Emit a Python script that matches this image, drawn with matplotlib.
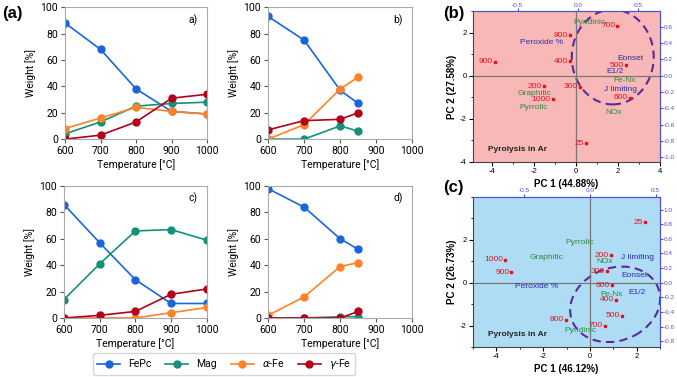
import matplotlib
matplotlib.use("Agg")
import matplotlib.pyplot as plt
from matplotlib.patches import Ellipse
from matplotlib.ticker import MultipleLocator

# ---- data for the weight panels ----
temps_long = [600, 700, 800, 900, 1000]
temps_short = [600, 700, 800, 850]

a_fepc = [88, 68, 38, 21, 19]
a_mag = [4, 13, 25, 27, 28]
a_afe = [8, 16, 24, 21, 19]
a_gfe = [0, 3, 13, 31, 34]

b_fepc = [93, 75, 37, 27]
b_mag = [0, 0, 10, 6]
b_afe = [0, 11, 38, 47]
b_gfe = [7, 14, 15, 20]

c_fepc = [86, 57, 29, 11, 11]
c_mag = [14, 41, 66, 67, 59]
c_afe = [0, 0, 0, 4, 8]
c_gfe = [0, 2, 5, 18, 22]

d_fepc = [98, 84, 60, 52]
d_mag = [0, 0, 1, 1]
d_afe = [2, 16, 39, 42]
d_gfe = [0, 0, 0, 5]

series_names = ["FePc", "Mag", r"$\alpha$-Fe", r"$\gamma$-Fe"]
series_colors = ["#1a66d9", "#14917a", "#ff8225", "#b3001b"]

# ---- PCA data (b) ----
pb_temps = ["700", "800", "400", "900", "500", "200", "300", "1000", "600", "25"]
pb_tx = [1.97, -0.28, -0.28, -3.86, 2.36, -1.51, 0.19, -1.10, 2.55, 0.49]
pb_ty = [2.33, 1.87, 0.68, 0.66, 0.49, -0.49, -0.52, -1.10, -1.02, -3.13]
pb_vars = ["Pyridinic", "Peroxide %", "Eonset", "E1/2", "Fe-Nx", "J limiting",
           "Graphitic", "Pyrrolic", "NOx"]
pb_vx = [0.63, -1.65, 2.60, 1.84, 2.33, 2.13, -1.98, -2.00, 1.78]
pb_vy = [2.46, 1.53, 0.80, 0.20, -0.22, -0.66, -0.82, -1.48, -1.69]
pb_vkind = ["g", "b", "b", "b", "g", "b", "g", "g", "g"]

# ---- PCA data (c) ----
pc_temps = ["25", "1000", "900", "200", "300", "600", "400", "500", "800", "700"]
pc_tx = [2.34, -3.62, -3.36, 0.89, 0.74, 0.95, 1.12, 1.39, -1.02, 0.64]
pc_ty = [2.83, 1.08, 0.48, 1.27, 0.53, -0.11, -0.80, -1.55, -1.73, -2.02]
pc_vars = ["Pyrrolic", "Graphitic", "NOx", "J limiting", "Eonset", "Peroxide %",
           "E1/2", "Fe-Nx", "Pyridinic"]
pc_vx = [-0.43, -1.87, 0.64, 2.03, 1.91, -2.27, 2.01, 0.95, -0.41]
pc_vy = [1.86, 1.16, 0.98, 1.17, 0.33, -0.17, -0.45, -0.55, -2.23]
pc_vkind = ["g", "g", "g", "b", "b", "b", "b", "g", "g"]

plt.rcParams['font.family'] = ['Roboto', 'DejaVu Sans']
fig = plt.figure(figsize=(6.77, 3.77), dpi=100)

PCA_FONT = ['Liberation Sans', 'DejaVu Sans']


def weight_panel(rect, temps, data, tag):
    ax = fig.add_axes(rect)
    for vals, name, col in zip(data, series_names, series_colors):
        ax.plot(temps, vals, '-o', color=col, lw=1.2, ms=5, label=name)
    ax.set_xlim(600, 1000)
    ax.set_ylim(0, 100)
    ax.set_xticks([600, 700, 800, 900, 1000])
    ax.set_yticks([0, 20, 40, 60, 80, 100])
    ax.tick_params(labelsize=7.5, length=3, color="#555555", pad=2)
    for s in ax.spines.values():
        s.set_color("#aaaaaa")
        s.set_linewidth(0.8)
    ax.set_ylabel("Weight [%]", fontsize=7.5, labelpad=3)
    ax.set_xlabel("Temperature [°C]", fontsize=7.5, labelpad=2)
    ax.text(0.9, 0.88, tag, transform=ax.transAxes, fontsize=7.5, ha='center')
    return ax


ax_a = weight_panel([0.096, 0.631, 0.210, 0.350], temps_long,
                    [a_fepc, a_mag, a_afe, a_gfe], "a)")
ax_b = weight_panel([0.396, 0.631, 0.213, 0.350], temps_short,
                    [b_fepc, b_mag, b_afe, b_gfe], "b)")
ax_c = weight_panel([0.0945, 0.1565, 0.211, 0.350], temps_long,
                    [c_fepc, c_mag, c_afe, c_gfe], "c)")
ax_d = weight_panel([0.396, 0.1565, 0.213, 0.350], temps_short,
                    [d_fepc, d_mag, d_afe, d_gfe], "d)")

handles, labels = ax_a.get_legend_handles_labels()
fig.legend(handles, labels, loc='center', bbox_to_anchor=(0.331, 0.034),
           ncol=4, fontsize=7.5, frameon=True, edgecolor="#cccccc",
           handlelength=2.2, columnspacing=1.3, borderpad=0.4,
           handletextpad=0.8)

fig.text(0.003, 0.965, "(a)", fontsize=12, fontweight='bold', va='center',
         family=PCA_FONT)
fig.text(0.655, 0.965, "(b)", fontsize=12, fontweight='bold', va='center',
         family=PCA_FONT)
fig.text(0.655, 0.503, "(c)", fontsize=12, fontweight='bold', va='center',
         family=PCA_FONT)

blue_txt = "#2c2ca8"
green_txt = "#2e8b3a"
red_txt = "#e8101a"
axis_blue = "#5050d0"


def pca_panel(rect, bg, xlim, ylim, xticks, yticks, tx, ty, tlabels,
              vx, vy, vlabels, vkind, kr, kt, t_off, rticks, tticks,
              xlab, ylab, ell):
    ax = fig.add_axes(rect)
    ax.set_facecolor(bg)
    ax.set_xlim(*xlim)
    ax.set_ylim(*ylim)
    ax.set_xticks(xticks)
    ax.set_yticks(yticks)
    ax.set_xticklabels([str(v) for v in xticks], family=PCA_FONT)
    ax.set_yticklabels([str(v) for v in yticks], family=PCA_FONT)
    ax.xaxis.set_minor_locator(MultipleLocator(1))
    ax.yaxis.set_minor_locator(MultipleLocator(1))
    ax.tick_params(labelsize=5.5, length=3, pad=1.5, direction='out')
    ax.tick_params(which='minor', length=1.5)
    ax.axhline(0, color="#777777", lw=0.9)
    ax.axvline(0, color="#777777", lw=0.9)
    for s in ["top", "right"]:
        ax.spines[s].set_color(axis_blue)
    for s in ["bottom", "left"]:
        ax.spines[s].set_color("#444444")
    for s in ax.spines.values():
        s.set_linewidth(0.8)

    # temperature scores
    for x, y, lab in zip(tx, ty, tlabels):
        ax.plot(x, y, 's', ms=1.8, color=red_txt)
        ax.annotate(lab, (x, y), xytext=(-1.5, 0), textcoords='offset points',
                    ha='right', va='center', fontsize=6, color=red_txt,
                    family=PCA_FONT)
    # variable loadings
    for x, y, lab, k in zip(vx, vy, vlabels, vkind):
        ax.text(x, y, lab, ha='center', va='center', fontsize=6,
                color=green_txt if k == "g" else blue_txt, family=PCA_FONT)

    e = Ellipse(ell[0], width=ell[1], height=ell[2], angle=ell[3], fill=False,
                edgecolor="#5a2a9c", lw=1.5, ls=(0, (4, 2.5)))
    ax.add_patch(e)

    ax.text(0.08, 0.07, "Pyrolysis in Ar", transform=ax.transAxes,
            fontsize=6, fontweight='bold', color="#222222", family=PCA_FONT)

    sec_r = ax.secondary_yaxis('right', functions=(lambda v: v * kr,
                                                   lambda v: v / kr))
    sec_r.set_yticks(rticks)
    sec_r.set_yticklabels(["%.1f" % v for v in rticks], family=PCA_FONT)
    sec_r.tick_params(labelsize=4.6, colors=axis_blue, length=2, pad=0.8)
    sec_t = ax.secondary_xaxis('top', functions=(lambda v: (v - t_off) * kt,
                                                 lambda v: v / kt + t_off))
    sec_t.set_xticks(tticks)
    sec_t.set_xticklabels(["%.1f" % v for v in tticks], family=PCA_FONT)
    sec_t.tick_params(labelsize=4.6, colors=axis_blue, length=2, pad=0.5)
    for sa in (sec_r, sec_t):
        for s in sa.spines.values():
            s.set_color(axis_blue)

    ax.set_xlabel(xlab, fontsize=7, fontweight='bold', labelpad=3,
                  family=PCA_FONT)
    ax.set_ylabel(ylab, fontsize=7, fontweight='bold', labelpad=2,
                  family=PCA_FONT)
    return ax


pb = pca_panel([0.6987, 0.5705, 0.2762, 0.400], "#f9b8b8",
               (-4.9, 4), (-4, 3), [-4, -2, 0, 2, 4], [-4, -2, 0, 2],
               pb_tx, pb_ty, pb_temps, pb_vx, pb_vy, pb_vars, pb_vkind,
               0.265, 0.1745, 0.09,
               [-1.0, -0.8, -0.6, -0.4, -0.2, 0.0, 0.2, 0.4, 0.6],
               [-0.5, 0.0, 0.5],
               "PC 1 (44.88%)", "PC 2 (27.58%)",
               ((1.75, 0.87), 3.9, 4.4, 0))

pc = pca_panel([0.6987, 0.0796, 0.2762, 0.398], "#aedcf5",
               (-5, 3), (-3, 4), [-4, -2, 0, 2], [-2, 0, 2],
               pc_tx, pc_ty, pc_temps, pc_vx, pc_vy, pc_vars, pc_vkind,
               0.293, 0.178, 0.0,
               [-0.8, -0.6, -0.4, -0.2, 0.0, 0.2, 0.4, 0.6, 0.8, 1.0],
               [-0.5, 0.0, 0.5],
               "PC 1 (46.12%)", "PC 2 (26.73%)",
               ((1.08, -1.01), 4.0, 3.35, 30))

fig.savefig("out.png", dpi=100)
